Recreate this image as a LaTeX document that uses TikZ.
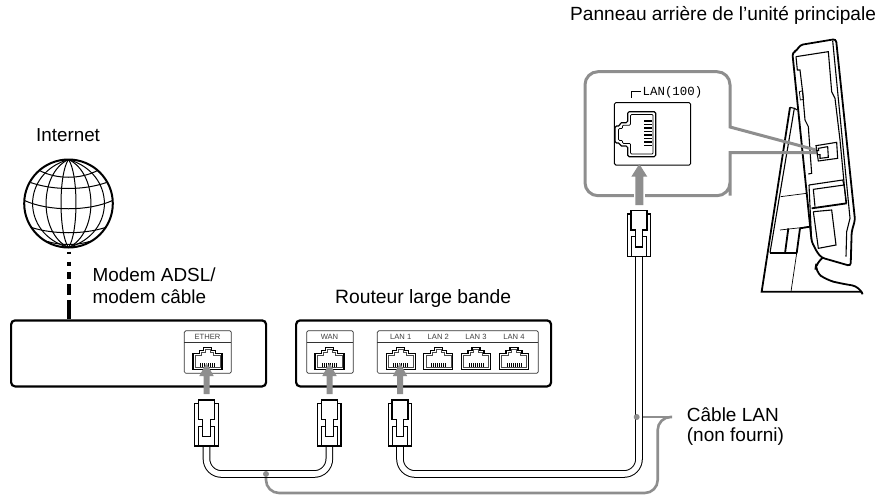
\documentclass[tikz,border=0pt]{standalone}
\usepackage{fontspec}
\setmainfont{Liberation Sans}
\newfontfamily\monofam{Liberation Mono}
\newcommand{\fs}[1]{\fontsize{#1}{#1}\selectfont}
\definecolor{callgray}{HTML}{8E8E8E}
\tikzset{
  x=1pt,y=-1pt,
  label text/.style={inner sep=0pt,anchor=west,text=black},
  box line/.style={draw=black,line width=2.2pt,rounded corners=4pt},
  panel line/.style={draw=black!80,line width=0.7pt,rounded corners=1.5pt},
  port tag/.style={inner sep=0pt,text=black!75,font=\fs{7.6}},
  cable line/.style={draw=black,line width=1pt,double=white,double distance=5.6pt,rounded corners=15pt},
  call line/.style={draw=callgray,line width=2.6pt,rounded corners=13pt},
  arrow shape/.style={fill=callgray,draw=none},
  mon/.style={draw=black,line width=1.1pt,line join=miter},
  monthin/.style={draw=black,line width=0.7pt},
  monthick/.style={draw=black,line width=1.8pt,line join=miter},
}
\newcommand{\smallport}[2]{% centre x, pins
  \begin{scope}[shift={(#1,347.5)}]
    \draw[black,line width=1.1pt,fill=white,line join=miter] (-14.5,22)--(-14.5,6)--(-8,6)--(-8,3)--(-4,3)--(-4,0)--(4,0)--(4,3)--(8,3)--(8,6)--(14.5,6)--(14.5,22)--cycle;
    \draw[black!70,line width=0.6pt] (-12.5,20)--(-12.5,8)--(-6,8)--(-6,5)--(-2.5,5)--(-2.5,2)--(2.5,2)--(2.5,5)--(6,5)--(6,8)--(12.5,8)--(12.5,20)--cycle;
    \foreach \p in {-7,-5,-3,-1,1,3,5,7}{\draw[black,line width=0.6pt] (\p,15.5)--(\p,19.5);}
    #2
  \end{scope}}
\newcommand{\plugshape}[2]{% centre x, top y
  \begin{scope}[shift={(#1,#2)}]
    \draw[black,line width=1.2pt,fill=white,line join=miter] (-11.7,3.3) rectangle (11.7,46);
    \draw[black,line width=1.2pt,fill=white,line join=miter] (-8,0)--(8,0)--(8,19.3)--(3.8,19.3)--(3.8,36.3)--(-3.8,36.3)--(-3.8,19.3)--(-8,19.3)--cycle;
    \draw[black,line width=0.8pt] (-3.8,26)--(-7.7,26)--(-7.7,46) (3.8,26)--(7.7,26)--(7.7,46);
  \end{scope}}
\newcommand{\upsmall}[1]{\fill[arrow shape] (#1-7.2,376)--(#1,363)--(#1+7.2,376)--(#1+3,376)--(#1+3,394)--(#1-3,394)--(#1-3,376)--cycle;}
\begin{document}
\begin{tikzpicture}
\useasboundingbox (0,0) rectangle (878,498);
% texts
\node[label text,font=\fs{19.1}] (tpanel) at (570,15) {Panneau arrière de l’unité principale};
\node[label text,font=\fs{18.8}] (tinternet) at (36,135) {Internet};
\node[label text,font=\fs{18.9}] (tmodem1) at (92.5,275) {Modem ADSL/};
\node[label text,font=\fs{18.9}] (tmodem2) at (92.5,297) {modem câble};
\node[label text,font=\fs{19.3}] (trouter) at (335,299) {Routeur large bande};
\node[label text,font=\fs{19}] (tcable1) at (686.7,415) {Câble LAN};
\node[label text,font=\fs{19}] (tcable2) at (686.7,436.7) {(non fourni)};
% globe
\coordinate (gc) at (68.5,203.5);
\begin{scope}[shift={(68.5,203.5)}]
  \draw[black,line width=2pt] (0,0) ellipse[x radius=44.3,y radius=44];
  \foreach \k in {7.5,22.5,36}{
    \draw[black,line width=1pt] (0,-44) .. controls (\k*1.33,-30) and (\k*1.33,30) .. (0,44);
    \draw[black,line width=1pt] (0,-44) .. controls (-\k*1.33,-30) and (-\k*1.33,30) .. (0,44);
  }
  \draw[black,line width=1pt] (-29,-33) .. controls (-12,-24) and (12,-24) .. (29,-33);
  \draw[black,line width=1pt] (-38,-21) .. controls (-15,-13) and (15,-13) .. (38,-21);
  \draw[black,line width=1pt] (-44,-3) .. controls (-20,8) and (20,8) .. (44,-3);
  \draw[black,line width=1pt] (-37,24) .. controls (-15,31) and (15,31) .. (37,24);
  \draw[black,line width=1pt] (-21,38) .. controls (-8,42) and (8,42) .. (21,38);
\end{scope}
% dashed link
\coordinate (dtop) at (68.7,251.7);
\coordinate (dbot) at (68.7,319);
\draw[black,line width=4pt] (dtop)--(68.7,254.3) (68.7,261.7)--(68.7,266) (68.7,272)--(68.7,279) (68.7,284)--(68.7,295) (68.7,300)--(dbot);
% boxes
\node[box line,fill=white,minimum width=255pt,minimum height=66pt,anchor=north west,inner sep=0pt] (modem) at (10,319.3) {};
\node[box line,fill=white,minimum width=255pt,minimum height=66pt,anchor=north west,inner sep=0pt] (router) at (295,319.3) {};
% port panels
\draw[panel line] (184.3,330.7) rectangle (231.3,373.3);
\draw[black!80,line width=0.7pt] (184.3,342.3)--(231.3,342.3);
\draw[panel line] (306.7,330.7) rectangle (353.3,373.3);
\draw[black!80,line width=0.7pt] (306.7,342.3)--(353.3,342.3);
\draw[panel line] (377.3,330.7) rectangle (538.3,373.3);
\draw[black!80,line width=0.7pt] (377.3,342.3)--(538.3,342.3);
\node[port tag] (tether) at (207.5,336.6) {ETHER};
\node[port tag] (twan) at (329.5,336.6) {WAN};
\node[port tag] (tl1) at (400.7,336.6) {LAN 1};
\node[port tag] (tl2) at (438.3,336.6) {LAN 2};
\node[port tag] (tl3) at (476,336.6) {LAN 3};
\node[port tag] (tl4) at (514,336.6) {LAN 4};
\smallport{207.5}{}
\smallport{329.5}{}
\smallport{400.7}{}
\smallport{438.3}{}
\smallport{476}{}
\smallport{514}{}
\upsmall{206.5}
\upsmall{329.5}
\upsmall{400}
% gray leader lines
\coordinate (l1a) at (266,474);
\coordinate (l2a) at (636.7,417);
\coordinate (l2b) at (672,417);
\draw[callgray,line width=2.6pt] (l2a)--(l2b);
\draw[call line] (l1a)--(266,493)--(657.7,493)--(657.7,417)--(l2b);
% cables
\coordinate (p1b) at (206.5,440);
\coordinate (p2b) at (329.3,440);
\coordinate (p3b) at (400,440);
\coordinate (p4b) at (639,250);
\draw[cable line] (p1b)--(206.5,474)--(329.3,474)--(p2b);
\draw[cable line] (p3b)--(400,474)--(639,474)--(p4b);
\fill[callgray] (l1a) circle[radius=3];
\fill[callgray] (l2a) circle[radius=3];
\plugshape{206.5}{400}
\plugshape{329.3}{400}
\plugshape{400}{400}
\plugshape{639}{210.7}
% LAN panel
\coordinate (mp1) at (816,150);
\coordinate (mp2) at (816,152.5);
\node[inner sep=0pt,anchor=west,font=\monofam\fs{12.4}] (tlan) at (642.5,92) {LAN(100)};
\draw[black,line width=1pt] (631.7,97.5)--(631.7,91)--(641,91);
\draw[panel line,line width=1pt,draw=black] (614.3,102.7) rectangle (690.7,165);
% big port
\draw[black,line width=1.1pt,rounded corners=1.5pt] (627.7,122.7)--(627.7,111.7)--(655.7,111.7)--(655.7,156.7)--(627.7,156.7)--(627.7,146)--(620,146)--(620,143)--(615,143)--(615,126)--(620,126)--(620,122.7)--cycle;
\draw[black,line width=0.7pt,rounded corners=1pt] (630.5,125.2)--(630.5,114.5)--(653,114.5)--(653,154)--(630.5,154)--(630.5,143.5)--(622.5,143.5)--(622.5,140.5)--(618.5,140.5)--(618.5,128.5)--(622.5,128.5)--(622.5,125.2)--cycle;
\foreach \yy in {121.2,124.7,128.2,131.7,135.2,138.7,142.2,145.7}{\draw[black,line width=1.5pt] (644.3,\yy)--(651.7,\yy);}
% monitor
\begin{scope}[shift={(560,30)},x=0.33333pt,y=-0.33333pt]
  \draw[monthick] (690,232)--(605,785)--(905,785);
  \draw[monthick,rounded corners=8pt] (905,785)--(900,770)--(840,760)--(800,750)--(765,725)--(770,695)--(785,685);
  \draw[mon] (690,232)--(703,235)--(630,668);
  \draw[mon] (703,235)--(712,240);
  \draw[monthick] (630,670)--(710,670);
  \draw[monthick] (685,595)--(675,670);
  \draw[monthick] (720,595)--(710,670);
  \draw[monthin] (710,670)--(693,785);
  \draw[monthin] (660,600)--(750,590);
  \draw[monthick] (720,595)--(750,590);
  \draw[monthin] (662,500)--(740,490);
  \draw[monthick,fill=white,rounded corners=3pt] (697,68)--(712,60)--(720,45)--(828,27)--(885,570)--(875,605)--(872,708)--(785,683)--(772,668)--(755,635)--cycle;
  \draw[mon] (818,32)--(870,565)--(860,605)--(858,680);
  \draw[mon] (708,80)--(805,65)--(815,185)--(825,205)--(840,330)--(858,520);
  \draw[mon] (708,80)--(712,120)--(720,120)--(727,178)--(735,270)--(745,290)--(752,390);
  \draw[mon] (752,390)--(755,430)--(745,432);
  \draw[monthin] (718,185)--(728,182)--(731,208)--(721,210)--cycle;
  \draw[mon] (747,465)--(848,450)--(852,465)--(760,478)--(765,530);
  \draw[mon] (852,465)--(860,520);
  \draw[monthick] (755,535)--(860,520);
  \draw[mon] (760,545)--(815,540)--(828,645)--(775,655)--(760,545);
  \draw[mon] (747,465)--(755,635);
  \draw[mon] (768,347)--(830,337)--(833,385)--(775,393)--cycle;
  \draw[mon,fill=white] (775,355)--(803,350)--(805,382)--(780,385)--(780,374)--(772,374)--(771,362)--(776,362)--cycle;
\end{scope}
% callout frame
\draw[callgray,line width=3pt,line join=miter] (mp1)--(730,127)--(730,84.7) [rounded corners=13pt] --(730,71.7)--(585,71.7)--(585,195.7)--(730,195.7)--(730,182.7) [sharp corners] --(730,152.5)--(mp2);
% big arrow
\fill[white] (633.5,170) rectangle (644.7,206);
\fill[arrow shape] (631.3,176.7)--(639.3,164)--(647.3,176.7)--(643.3,176.7)--(643.3,205)--(635.3,205)--(635.3,176.7)--cycle;
\end{tikzpicture}
\end{document}
